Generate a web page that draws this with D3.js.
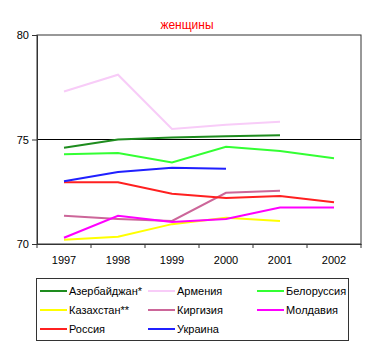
<!DOCTYPE html>
<html><head><meta charset="utf-8">
<script src="https://cdn.jsdelivr.net/npm/d3@7"></script>
<style>body{margin:0;background:#fff;}svg{display:block;font-family:"Liberation Sans",Arial,sans-serif;}</style>
</head><body>
<svg id="c" width="375" height="350"></svg>
<script>
const years = ["1997","1998","1999","2000","2001","2002"];
const yTicks = [70, 75, 80];
const seriesNames = ["Азербайджан*","Армения","Белоруссия","Казахстан**","Киргизия","Молдавия","Россия","Украина"];
const colors = ["#1E8C1E","#F8CCF8","#33FF33","#FFFF00","#CC6699","#FF00FF","#FF2020","#2020FF"];
const azerbaijan = [74.6, 75.0, 75.1, 75.15, 75.2, null];
const armenia    = [77.3, 78.1, 75.5, 75.7, 75.85, null];
const belarus    = [74.3, 74.35, 73.9, 74.65, 74.45, 74.1];
const kazakhstan = [70.2, 70.35, 70.95, 71.25, 71.1, null];
const kyrgyzstan = [71.35, 71.2, 71.1, 72.45, 72.55, null];
const moldova    = [70.3, 71.35, 71.05, 71.2, 71.75, 71.75];
const russia     = [72.95, 72.95, 72.4, 72.2, 72.3, 72.0];
const ukraine    = [73.0, 73.45, 73.65, 73.6, null, null];
const seriesValues = [azerbaijan, armenia, belarus, kazakhstan, kyrgyzstan, moldova, russia, ukraine];

const svg = d3.select("#c");
const L = 37, R = 361, T = 35, B = 244;
const x = d3.scaleBand().domain(years).range([L, R]);
const y = d3.scaleLinear().domain([70, 80]).range([B, T]);

svg.append("text").attr("x", 187).attr("y", 29).attr("text-anchor","middle")
  .attr("fill","#FF0000").attr("font-size", 12).text("женщины");

svg.append("line").attr("x1",L).attr("x2",R).attr("y1",y(75)).attr("y2",y(75))
  .attr("stroke","#000").attr("stroke-width",1);
svg.append("rect").attr("x",L).attr("y",T).attr("width",R-L).attr("height",B-T)
  .attr("fill","none").attr("stroke","#333").attr("stroke-width",1);

const yAxis = svg.append("g").attr("transform",`translate(${L},0)`)
  .call(d3.axisLeft(y).tickValues(yTicks).tickSize(5).tickFormat(d3.format("d")));
yAxis.select(".domain").attr("stroke","#333");
yAxis.selectAll("line").attr("stroke","#333");
yAxis.selectAll("text").attr("font-size",11).attr("fill","#000").attr("font-family","Liberation Sans, Arial");

const xAxis = svg.append("g").attr("transform",`translate(0,${B})`)
  .call(d3.axisBottom(x).tickSize(0).tickPadding(12));
xAxis.select(".domain").attr("stroke","#333");
xAxis.selectAll("text").attr("font-size",11).attr("fill","#000").attr("font-family","Liberation Sans, Arial");
svg.append("g").selectAll("line").data(d3.range(years.length+1)).join("line")
  .attr("x1",i=>L+i*x.step()).attr("x2",i=>L+i*x.step())
  .attr("y1",B).attr("y2",B+4).attr("stroke","#333");

const line = d3.line().defined(d=>d.v!=null)
  .x(d=>x(d.yr)+x.bandwidth()/2).y(d=>y(d.v));
seriesValues.forEach((vals,i)=>{
  svg.append("path").datum(vals.map((v,j)=>({yr:years[j],v})))
    .attr("d",line).attr("fill","none").attr("stroke",colors[i]).attr("stroke-width",2);
});

svg.append("rect").attr("x",36.5).attr("y",278.5).attr("width",312).attr("height",62)
  .attr("fill","#fff").attr("stroke","#333");
const colX = [40, 148, 257];
const rowY = [291, 310, 329];
seriesNames.forEach((n,i)=>{
  const cx = colX[i%3], cy = rowY[Math.floor(i/3)];
  svg.append("line").attr("x1",cx).attr("x2",cx+27).attr("y1",cy).attr("y2",cy)
    .attr("stroke",colors[i]).attr("stroke-width",2);
  svg.append("text").attr("x",cx+29).attr("y",cy+4).attr("font-size",11).attr("fill","#000").text(n);
});
</script>
</body></html>
